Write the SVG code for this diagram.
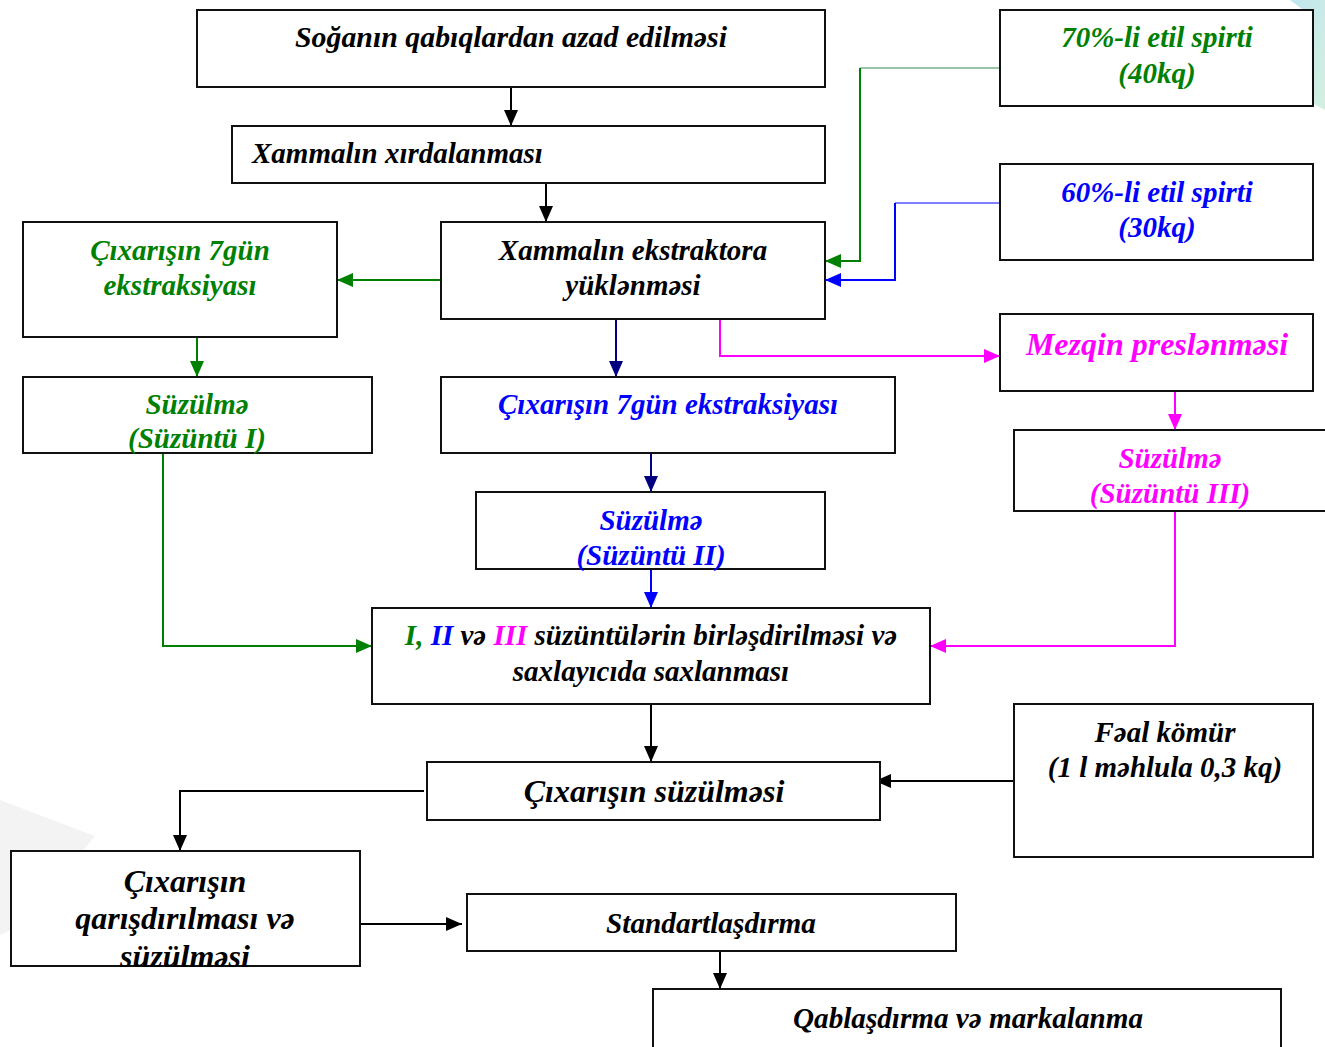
<svg xmlns="http://www.w3.org/2000/svg" width="1325" height="1047" viewBox="0 0 1325 1047">
<defs>
<style>
.box{fill:#ffffff;stroke:#111111;stroke-width:2}
.t{font-family:"Liberation Serif","Times New Roman",serif;font-weight:bold;font-style:italic;font-size:29px;text-anchor:middle}
.big{font-size:32px}
.tl{text-anchor:start}
.k{fill:#000000}
.g{fill:#008000}
.b{fill:#0000ff}
.m{fill:#ff00ff}
.c{fill:none;stroke-width:2}
</style>
<marker id="aK" markerWidth="16" markerHeight="14" refX="16" refY="7" orient="auto" markerUnits="userSpaceOnUse"><path d="M0,0 L16,7 L0,14 Z" fill="#000000"/></marker>
<marker id="aG" markerWidth="16" markerHeight="14" refX="16" refY="7" orient="auto" markerUnits="userSpaceOnUse"><path d="M0,0 L16,7 L0,14 Z" fill="#008000"/></marker>
<marker id="aB" markerWidth="16" markerHeight="14" refX="16" refY="7" orient="auto" markerUnits="userSpaceOnUse"><path d="M0,0 L16,7 L0,14 Z" fill="#0000ff"/></marker>
<marker id="aN" markerWidth="16" markerHeight="14" refX="16" refY="7" orient="auto" markerUnits="userSpaceOnUse"><path d="M0,0 L16,7 L0,14 Z" fill="#000080"/></marker>
<marker id="aM" markerWidth="16" markerHeight="14" refX="16" refY="7" orient="auto" markerUnits="userSpaceOnUse"><path d="M0,0 L16,7 L0,14 Z" fill="#ff00ff"/></marker>
<linearGradient id="teal" x1="0" y1="0" x2="1" y2="1"><stop offset="0" stop-color="#bfe6ee"/><stop offset="1" stop-color="#d3efe0"/></linearGradient>
</defs>
<rect width="1325" height="1047" fill="#ffffff"/>
<g id="background">
<polygon points="1290,0 1325,0 1325,110 1314,104 1314,18" fill="url(#teal)"/>
<polygon points="0,800 95,836 22,925 0,935" fill="#f3f3f3"/>
</g>
<g id="connectors">
<path class="c" stroke="#000000" d="M511,87 V126" marker-end="url(#aK)"/>
<path class="c" stroke="#000000" d="M546,183 V222" marker-end="url(#aK)"/>
<path class="c" stroke="#008000" d="M441,280 H337" marker-end="url(#aG)"/>
<path class="c" stroke="#008000" d="M197,337 V377" marker-end="url(#aG)"/>
<path fill="none" stroke="#2e8b57" stroke-width="1.2" d="M1000,68 H860"/>
<path class="c" stroke="#008000" d="M860,68 V261 H825" marker-end="url(#aG)"/>
<path fill="none" stroke="#0000ff" stroke-width="1.2" d="M1000,203 H895"/>
<path class="c" stroke="#0000ff" d="M895,203 V280 H825" marker-end="url(#aB)"/>
<path class="c" stroke="#ff00ff" d="M720,319 V356 H1000" marker-end="url(#aM)"/>
<path class="c" stroke="#ff00ff" d="M1175,391 V430" marker-end="url(#aM)"/>
<path class="c" stroke="#000080" d="M616,319 V377" marker-end="url(#aN)"/>
<path class="c" stroke="#000080" d="M651,453 V492" marker-end="url(#aN)"/>
<path class="c" stroke="#0000ff" d="M651,569 V608" marker-end="url(#aB)"/>
<path class="c" stroke="#008000" d="M163,453 V646 H372" marker-end="url(#aG)"/>
<path class="c" stroke="#ff00ff" d="M1175,511 V646 H930" marker-end="url(#aM)"/>
<path class="c" stroke="#000000" d="M651,704 V762" marker-end="url(#aK)"/>
<path class="c" stroke="#000000" d="M1014,781 H875" marker-end="url(#aK)"/>
<path class="c" stroke="#000000" d="M424,791 H180 V851" marker-end="url(#aK)"/>
<path class="c" stroke="#000000" d="M357,924 H462" marker-end="url(#aK)"/>
<path class="c" stroke="#000000" d="M720,951 V989" marker-end="url(#aK)"/>
</g>
<g id="n1"><rect class="box" x="197" y="10" width="628" height="77"/><text class="t k" x="511" y="47" textLength="432" lengthAdjust="spacingAndGlyphs">Soğanın qabıqlardan  azad edilməsi</text></g>
<g id="n2"><rect class="box" x="232" y="126" width="593" height="57"/><text class="t tl k" x="252" y="163">Xammalın xırdalanması</text></g>
<g id="n3"><rect class="box" x="441" y="222" width="384" height="97"/><text class="t k" x="633" y="260">Xammalın ekstraktora</text><text class="t k" x="633" y="295">yüklənməsi</text></g>
<g id="n4"><rect class="box" x="23" y="222" width="314" height="115"/><text class="t g" x="180" y="260">Çıxarışın 7gün</text><text class="t g" x="180" y="295">ekstraksiyası</text></g>
<g id="n5"><rect class="box" x="23" y="377" width="349" height="76"/><text class="t g" x="197" y="414">Süzülmə</text><text class="t g" x="197" y="448">(Süzüntü I)</text></g>
<g id="n6"><rect class="box" x="1000" y="10" width="313" height="96"/><text class="t g" x="1157" y="47">70%-li etil spirti</text><text class="t g" x="1157" y="83">(40kq)</text></g>
<g id="n7"><rect class="box" x="1000" y="164" width="313" height="96"/><text class="t b" x="1157" y="202">60%-li etil spirti</text><text class="t b" x="1157" y="237">(30kq)</text></g>
<g id="n8"><rect class="box" x="1000" y="314" width="313" height="77"/><text class="t m big" x="1157" y="355">Mezqin preslənməsi</text></g>
<g id="n9"><rect class="box" x="1014" y="430" width="320" height="81"/><text class="t m" x="1170" y="468">Süzülmə</text><text class="t m" x="1170" y="503">(Süzüntü III)</text></g>
<g id="n10"><rect class="box" x="441" y="377" width="454" height="76"/><text class="t b" x="668" y="414">Çıxarışın 7gün ekstraksiyası</text></g>
<g id="n11"><rect class="box" x="476" y="492" width="349" height="77"/><text class="t b" x="651" y="530">Süzülmə</text><text class="t b" x="651" y="565">(Süzüntü II)</text></g>
<g id="n12"><rect class="box" x="372" y="608" width="558" height="96"/><text class="t k" x="651" y="645"><tspan class="g">I,</tspan> <tspan class="b">II</tspan> və <tspan class="m">III</tspan> süzüntülərin birləşdirilməsi və</text><text class="t k" x="651" y="681">saxlayıcıda saxlanması</text></g>
<g id="n13"><rect class="box" x="427" y="762" width="453" height="58"/><text class="t k big" x="654" y="802">Çıxarışın süzülməsi</text></g>
<g id="n14"><rect class="box" x="1014" y="704" width="299" height="153"/><text class="t k" x="1165" y="742">Fəal kömür</text><text class="t k" x="1165" y="777">(1 l məhlula 0,3 kq)</text></g>
<g id="n15"><rect class="box" x="11" y="851" width="349" height="115"/><text class="t k big" x="185" y="892">Çıxarışın</text><text class="t k big" x="185" y="929">qarışdırılması və</text><text class="t k big" x="185" y="967">süzülməsi</text></g>
<g id="n16"><rect class="box" x="467" y="894" width="489" height="57"/><text class="t k" x="711" y="933" textLength="210" lengthAdjust="spacingAndGlyphs">Standartlaşdırma</text></g>
<g id="n17"><rect class="box" x="653" y="989" width="628" height="64"/><text class="t k" x="968" y="1028" textLength="350" lengthAdjust="spacingAndGlyphs">Qablaşdırma və markalanma</text></g>
</svg>
